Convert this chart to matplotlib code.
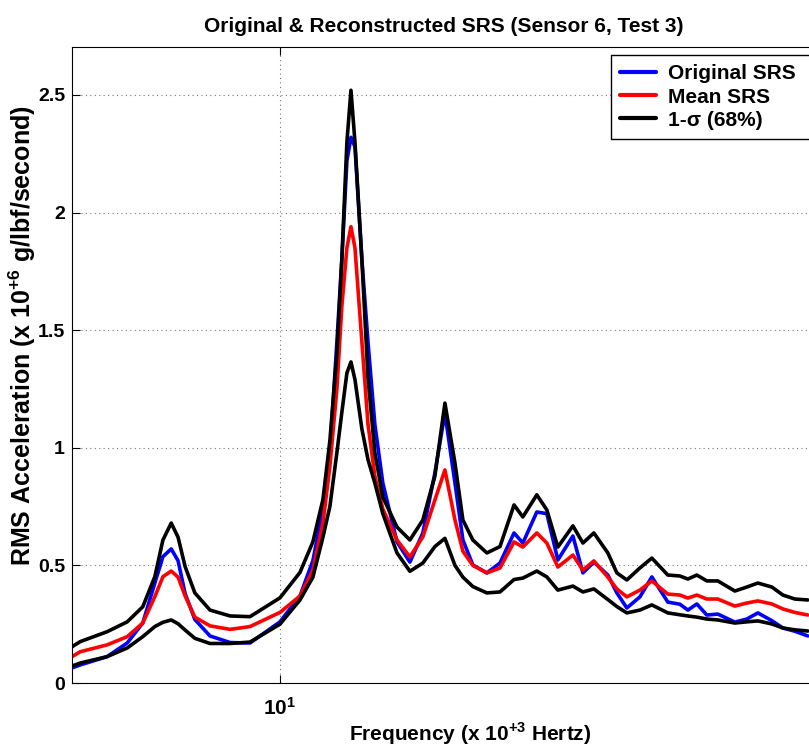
import matplotlib
matplotlib.use("Agg")
import matplotlib.pyplot as plt
from matplotlib.patches import Rectangle
from matplotlib.ticker import NullLocator
import numpy as np

# Frequency grid (x 10^3 Hz)
freq = [5.00, 5.14, 5.62, 6.01, 6.33, 6.59, 6.77, 6.96, 7.12, 7.29, 7.53, 7.92,
        8.47, 9.05, 10.0, 10.69, 11.16, 11.54, 11.81, 12.09, 12.29, 12.50, 12.67,
        12.84, 13.14, 13.41, 13.72, 14.09, 14.77, 15.42, 16.10, 16.76, 17.33,
        17.92, 18.40, 19.02, 19.93, 20.82, 21.82, 22.47, 23.54, 24.34, 25.25,
        26.55, 27.45, 28.47, 29.83, 30.74, 31.78, 33.19, 34.54, 36.43, 37.92,
        38.95, 40.13, 41.49, 43.04, 45.55, 47.41, 49.18, 51.53, 53.45, 55.64, 58.10]

original = [0.064, 0.077, 0.112, 0.17, 0.255, 0.425, 0.537, 0.57, 0.52, 0.38, 0.27, 0.20,
            0.172, 0.17, 0.26, 0.37, 0.52, 0.74, 0.98, 1.45, 1.80, 2.22, 2.32,
            2.28, 1.80, 1.45, 1.10, 0.85, 0.60, 0.514, 0.638, 0.893, 1.148,
            0.85, 0.608, 0.502, 0.468, 0.51, 0.638, 0.595, 0.727, 0.72, 0.523,
            0.625, 0.468, 0.514, 0.459, 0.383, 0.319, 0.366, 0.451, 0.344, 0.335,
            0.31, 0.336, 0.289, 0.293, 0.259, 0.272, 0.298, 0.265, 0.234, 0.22, 0.20]

mean = [0.112, 0.133, 0.162, 0.197, 0.255, 0.367, 0.452, 0.476, 0.45, 0.37, 0.28, 0.243,
        0.228, 0.24, 0.30, 0.37, 0.48, 0.68, 0.92, 1.25, 1.60, 1.85, 1.94,
        1.85, 1.45, 1.10, 0.88, 0.74, 0.608, 0.536, 0.621, 0.778, 0.906,
        0.693, 0.56, 0.50, 0.468, 0.489, 0.60, 0.578, 0.638, 0.595, 0.493,
        0.544, 0.48, 0.519, 0.45, 0.40, 0.366, 0.395, 0.434, 0.378, 0.374,
        0.361, 0.374, 0.357, 0.357, 0.327, 0.34, 0.349, 0.336, 0.315, 0.30, 0.289]

upper = [0.154, 0.176, 0.218, 0.26, 0.324, 0.452, 0.608, 0.68, 0.62, 0.495, 0.383, 0.31,
         0.285, 0.282, 0.362, 0.47, 0.60, 0.78, 1.03, 1.40, 1.80, 2.30, 2.52,
         2.30, 1.80, 1.30, 0.98, 0.79, 0.663, 0.608, 0.693, 0.88, 1.19,
         0.935, 0.693, 0.608, 0.553, 0.58, 0.757, 0.706, 0.80, 0.736, 0.578,
         0.668, 0.595, 0.638, 0.553, 0.468, 0.438, 0.489, 0.531, 0.459, 0.455,
         0.442, 0.459, 0.434, 0.434, 0.391, 0.408, 0.425, 0.408, 0.374, 0.357, 0.353]

lower = [0.072, 0.085, 0.112, 0.149, 0.197, 0.24, 0.258, 0.268, 0.252, 0.225, 0.19, 0.168,
         0.168, 0.174, 0.25, 0.353, 0.45, 0.62, 0.75, 0.98, 1.15, 1.318, 1.365,
         1.29, 1.08, 0.95, 0.85, 0.72, 0.553, 0.475, 0.51, 0.58, 0.615,
         0.50, 0.45, 0.41, 0.383, 0.387, 0.44, 0.446, 0.476, 0.451, 0.395,
         0.412, 0.387, 0.40, 0.355, 0.325, 0.298, 0.31, 0.332, 0.298, 0.29,
         0.285, 0.28, 0.272, 0.268, 0.255, 0.26, 0.264, 0.251, 0.234, 0.226, 0.221]

yticks = [0, 0.5, 1, 1.5, 2, 2.5]
ytick_labels = ["0", "0.5", "1", "1.5", "2", "2.5"]

plt.rcParams["font.family"] = ["Liberation Sans", "DejaVu Sans"]
plt.rcParams["font.weight"] = "bold"
plt.rcParams["mathtext.fontset"] = "custom"
plt.rcParams["mathtext.rm"] = "Liberation Sans:bold"
plt.rcParams["mathtext.bf"] = "Liberation Sans:bold"

W, H = 809, 749
L, R, T, B = 72, 835, 47, 683   # axes box in pixels (runs past the right edge)
aw, ah = R - L, B - T

fig = plt.figure(figsize=(W / 100, H / 100), dpi=100)
ax = fig.add_axes([L / W, (H - B) / H, aw / W, ah / H])

kw = dict(lw=2.6, solid_joinstyle="round", solid_capstyle="round")
ax.plot(freq, original, color="#0000ff", label="Original SRS", **kw)
ax.plot(freq, mean, color="#ff0000", label="Mean SRS", **kw)
ax.plot(freq, upper, color="black", label="1-σ (68%)", **kw)
ax.plot(freq, lower, color="black", **kw)

ax.set_xscale("log")
ax.set_xlim(5, 63.6)
ax.set_ylim(0, 2.704)
ax.set_xticks([10])
ax.set_xticklabels([r"$\mathbf{10^{1}}$"], fontsize=15)
ax.xaxis.set_minor_locator(NullLocator())
ax.set_yticks(yticks)
ax.set_yticklabels(ytick_labels, fontsize=14, fontweight="bold")
ax.tick_params(direction="in", length=6, width=0.8, top=True)
ax.tick_params(axis="x", pad=10)
ax.tick_params(axis="y", pad=5)
ax.grid(True, color="#777777", linestyle=(0, (1, 3)), linewidth=0.8)

ax.set_title("Original & Reconstructed SRS (Sensor 6, Test 3)", fontsize=15,
             fontweight="bold", pad=11, x=(444 - L) / aw)
ax.set_xlabel(r"Frequency (x 10$^{+3}$ Hertz)", fontsize=15, fontweight="bold")
ax.xaxis.label.set_va("center")
ax.xaxis.set_label_coords((470 - L) / aw, (B - 734) / ah)
ax.set_ylabel(r"RMS Acceleration (x 10$^{+6}$ g/lbf/second)", fontsize=18,
              fontweight="bold")
ax.yaxis.label.set_va("center")
ax.yaxis.set_label_coords((22 - L) / aw, (B - 336) / ah)

# legend box: runs off the right edge of the picture, like the reference
box = Rectangle(((611 - L) / aw, (B - 139) / ah), (830 - 611) / aw, 84 / ah,
                transform=ax.transAxes, facecolor="white", edgecolor="black",
                linewidth=1.0, zorder=4)
ax.add_patch(box)
leg = ax.legend(loc="upper left", bbox_to_anchor=((611 - L) / aw, (B - 55) / ah),
                borderaxespad=0, fontsize=15, frameon=False, handlelength=1.7,
                borderpad=0.45, labelspacing=0.2, handletextpad=0.6)
for line in leg.get_lines():
    line.set_linewidth(3)

fig.savefig("out.png", dpi=100)
